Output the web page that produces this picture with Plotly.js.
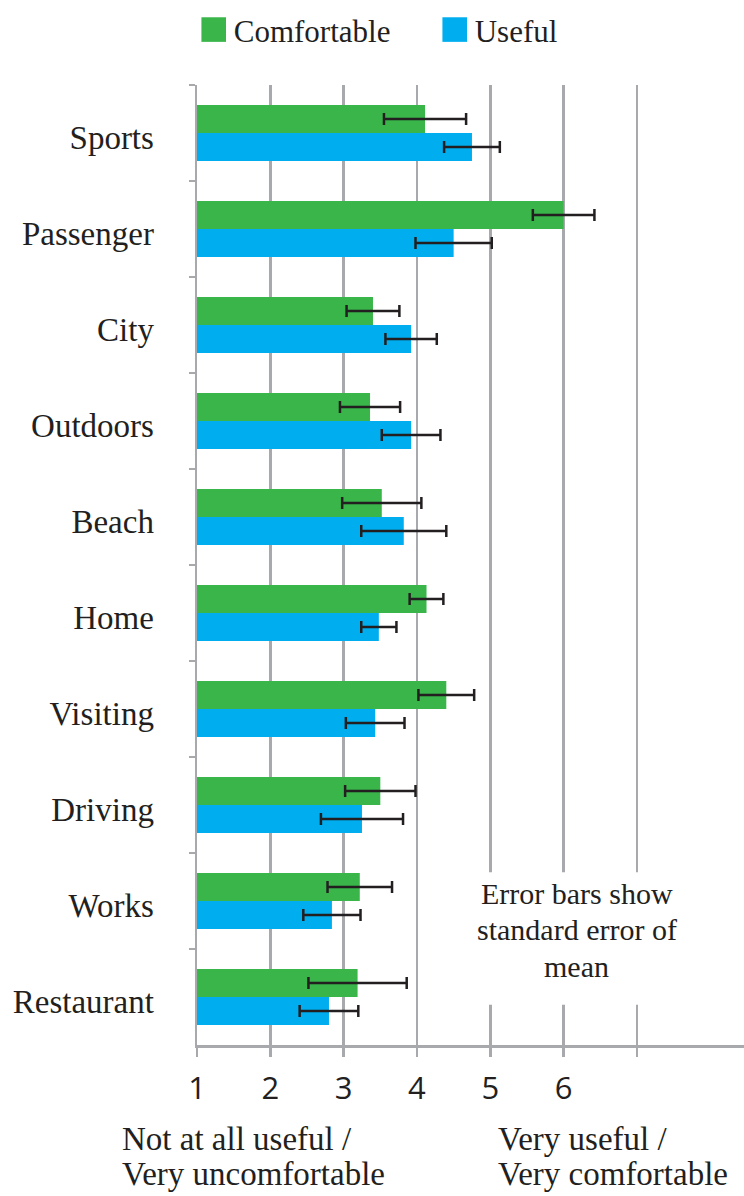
<!DOCTYPE html>
<html>
<head>
<meta charset="utf-8">
<script src="https://cdn.plot.ly/plotly-3.0.1.min.js"></script>
<style>
  html, body { margin: 0; padding: 0; background: #ffffff; }
  #chart { width: 744px; height: 1196px; }
</style>
</head>
<body>
<div id="chart"></div>
<script>
// ---- data ----
const categories = ["Sports", "Passenger", "City", "Outdoors", "Beach", "Home", "Visiting", "Driving", "Works", "Restaurant"];
const comfortable = [4.11, 6.00, 3.40, 3.36, 3.52, 4.13, 4.40, 3.50, 3.22, 3.19];
const comfortableErr = [0.56, 0.42, 0.36, 0.41, 0.54, 0.23, 0.38, 0.48, 0.44, 0.67];
const useful = [4.75, 4.50, 3.92, 3.92, 3.82, 3.48, 3.43, 3.25, 2.84, 2.80];
const usefulErr = [0.38, 0.52, 0.35, 0.40, 0.58, 0.24, 0.40, 0.56, 0.39, 0.40];
const tickValues = [1, 2, 3, 4, 5, 6, 7];
const tickLabels = ["1", "2", "3", "4", "5", "6", ""];
const seriesNames = ["Comfortable", "Useful"];
const leftCaption = ["Not at all useful /", "Very uncomfortable"];
const rightCaption = ["Very useful /", "Very comfortable"];
const noteLines = ["Error bars show", "standard error of", "mean"];

// ---- styles ----
const GREEN = "#39b54a";
const BLUE = "#00aeef";
const GRID = "#a7a9ac";
const ERR = "#231f20";
const TXT = "#231f20";
const SERIF = "Liberation Serif, Times New Roman, serif";

const errStyle = { type: "data", visible: true, color: ERR, thickness: 2.5, width: 6 };

const traces = [
  {
    type: "bar", orientation: "h", name: seriesNames[0],
    y: categories, x: comfortable,
    error_x: Object.assign({ array: comfortableErr }, errStyle),
    marker: { color: GREEN, line: { width: 0 } }
  },
  {
    type: "bar", orientation: "h", name: seriesNames[1],
    y: categories, x: useful,
    error_x: Object.assign({ array: usefulErr }, errStyle),
    marker: { color: BLUE, line: { width: 0 } }
  }
];

// text annotations (positions in paper / data space)
const annotations = [];
const noteY = [0.1583, 0.1198, 0.0813];
noteLines.forEach(function (t, i) {
  annotations.push({
    text: t, xref: "x", yref: "paper", x: 6.18, y: noteY[i],
    xanchor: "center", yanchor: "middle", showarrow: false,
    font: { family: SERIF, size: 30, color: TXT }
  });
});
const capY = [-0.0975, -0.1344];
leftCaption.forEach(function (t, i) {
  annotations.push({
    text: t, xref: "paper", yref: "paper", x: -0.1406, y: capY[i],
    xanchor: "left", yanchor: "middle", showarrow: false,
    font: { family: SERIF, size: 33, color: TXT }
  });
});
rightCaption.forEach(function (t, i) {
  annotations.push({
    text: t, xref: "paper", yref: "paper", x: 0.5475, y: capY[i],
    xanchor: "left", yanchor: "middle", showarrow: false,
    font: { family: SERIF, size: 33, color: TXT }
  });
});

const layout = {
  width: 744, height: 1196,
  margin: { l: 197, r: 0, t: 85, b: 151, pad: 0 },
  paper_bgcolor: "#ffffff", plot_bgcolor: "#ffffff",
  barmode: "group", bargap: 0.415, bargroupgap: 0,
  showlegend: true,
  legend: {
    orientation: "h", x: -0.006, xanchor: "left", y: 1.0855, yanchor: "top",
    font: { family: SERIF, size: 31, color: TXT },
    entrywidth: 196, entrywidthmode: "pixels",
    traceorder: "normal", bgcolor: "rgba(0,0,0,0)", borderwidth: 0
  },
  xaxis: {
    range: [1, 8.46], fixedrange: true,
    tickmode: "array", tickvals: tickValues, ticktext: tickLabels,
    showgrid: true, gridcolor: GRID, gridwidth: 2.5,
    zeroline: false,
    showline: true, linecolor: GRID, linewidth: 2.5,
    ticks: "outside", ticklen: 9, tickwidth: 2.5, tickcolor: GRID,
    ticklabelstandoff: 5,
    tickfont: { family: "Open Sans, Noto Sans, sans-serif", size: 31, color: TXT }
  },
  yaxis: {
    type: "category", autorange: "reversed", fixedrange: true,
    showgrid: false, zeroline: false,
    showline: true, linecolor: GRID, linewidth: 2.5,
    ticks: "outside", tickson: "boundaries", ticklen: 6, tickwidth: 2.5, tickcolor: GRID,
    ticklabelstandoff: 34, ticklabelshift: -4,
    tickfont: { family: SERIF, size: 33, color: TXT }
  },
  shapes: [
    // white patch behind the note, interrupting the gridlines as in the reference
    {
      type: "rect", xref: "x", yref: "paper", x0: 4.45, x1: 7.6, y0: 0.042, y1: 0.18,
      fillcolor: "#ffffff", line: { width: 0 }, layer: "above"
    }
  ],
  annotations: annotations
};

Plotly.newPlot("chart", traces, layout, { displayModeBar: false, staticPlot: true }).then(function (gd) {
  // enlarge legend swatches to match the reference's big squares
  gd.querySelectorAll(".legend .legendpoints path").forEach(function (p) {
    var t = p.getAttribute("transform") || "";
    p.setAttribute("transform", t + " scale(2.05)");
  });
  gd.querySelectorAll(".legend [clip-path]").forEach(function (e) {
    e.removeAttribute("clip-path");
  });
});
</script>
</body>
</html>
